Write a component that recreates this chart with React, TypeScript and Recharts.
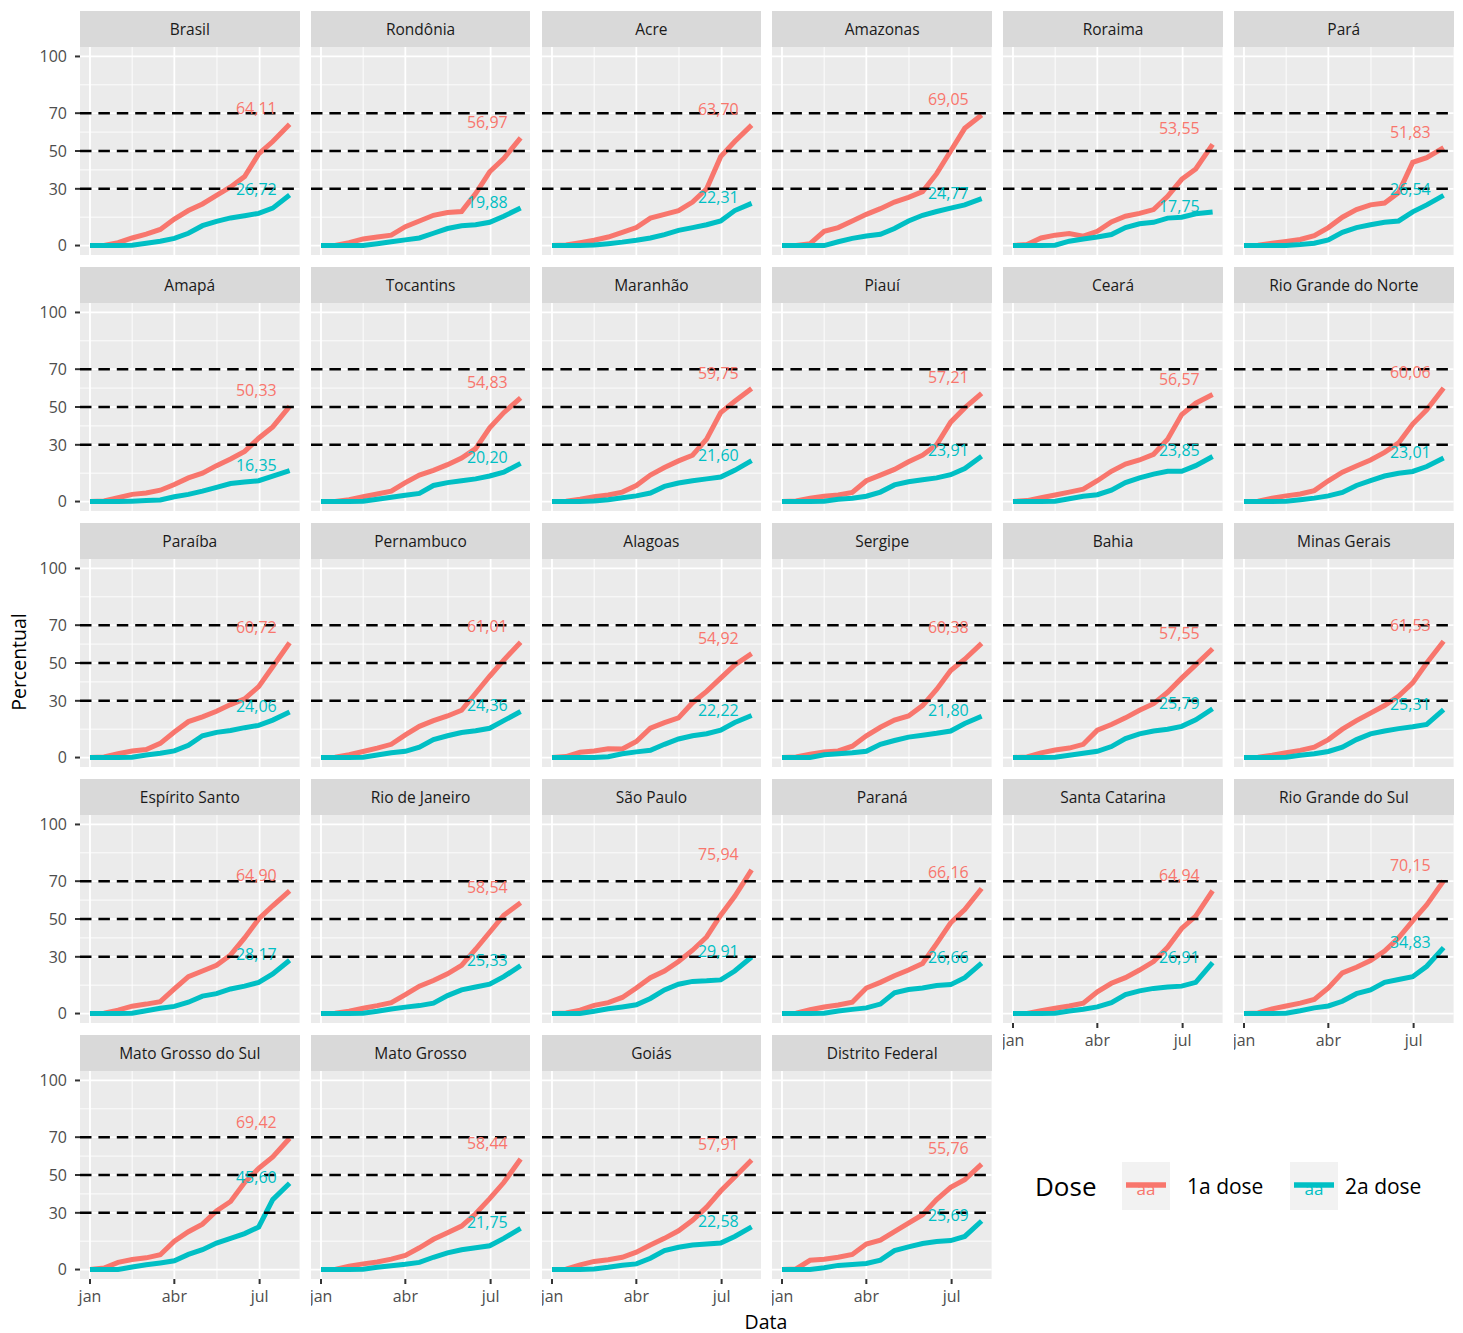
import React from 'react';
import { LineChart, Line, XAxis, YAxis, CartesianGrid, ReferenceLine, ReferenceDot } from 'recharts';

// ---------- data ----------
const days = [0, 15, 30, 45, 60, 75, 90, 105, 120, 135, 150, 165, 180, 195, 213];
const xTickDays = [0, 90, 181];
const xTickLabels = ['jan', 'abr', 'jul'];
const xMinorDays = [45, 135.5];
const yTicks = [0, 30, 50, 70, 100];
const yMinor = [15, 40, 60, 85];
const dashedLevels = [30, 50, 70];
const doseNames = ['1a dose', '2a dose'];

const states = [
  'Brasil', 'Rondônia', 'Acre', 'Amazonas', 'Roraima', 'Pará',
  'Amapá', 'Tocantins', 'Maranhão', 'Piauí', 'Ceará', 'Rio Grande do Norte',
  'Paraíba', 'Pernambuco', 'Alagoas', 'Sergipe', 'Bahia', 'Minas Gerais',
  'Espírito Santo', 'Rio de Janeiro', 'São Paulo', 'Paraná', 'Santa Catarina', 'Rio Grande do Sul',
  'Mato Grosso do Sul', 'Mato Grosso', 'Goiás', 'Distrito Federal',
];

const brasil1 = [0, 0, 1.5, 4, 6, 8.5, 14, 18.5, 22, 26.5, 31, 36.5, 48.5, 55, 64.11];
const brasil2 = [0, 0, 0, 0.2, 1.2, 2.3, 3.8, 6.5, 10.5, 12.8, 14.6, 15.8, 17, 19.8, 26.72];
const rondonia1 = [0, 0, 1.5, 3.5, 4.5, 5.5, 10, 13, 16, 17.5, 18, 27.5, 39, 46, 56.97];
const rondonia2 = [0, 0, 0, 0, 1, 2, 3, 4, 6.5, 9, 10.5, 11, 12.3, 15.5, 19.88];
const acre1 = [0, 0.3, 1.5, 2.8, 4.5, 7, 9.5, 14.5, 16.5, 18.5, 23, 30, 47, 55, 63.70];
const acre2 = [0, 0, 0, 0.3, 1, 1.8, 2.8, 4, 5.8, 8, 9.5, 11, 13, 18.5, 22.31];
const amazonas1 = [0, 0, 1, 7.5, 9.5, 13, 16.5, 19.5, 23, 25.5, 28.5, 38, 50, 62, 69.05];
const amazonas2 = [0, 0, 0, 0, 2, 3.8, 5, 6, 9, 13, 16, 18, 19.8, 21.5, 24.77];
const roraima1 = [0, 0.5, 4, 5.5, 6.3, 5, 7.5, 12.5, 15.5, 17, 19, 26, 35, 40.5, 53.55];
const roraima2 = [0, 0, 0, 0.2, 2.3, 3.5, 4.5, 5.8, 9.5, 11.5, 12.3, 14.5, 15, 16.8, 17.75];
const para1 = [0, 0.2, 1.2, 2.2, 3.2, 5.2, 9.5, 15, 19, 21.5, 22.5, 28, 44, 46.5, 51.83];
const para2 = [0, 0, 0, 0, 0.5, 1.2, 3, 7, 9.5, 11, 12.3, 13, 17.8, 21.5, 26.54];
const amapa1 = [0, 0.3, 2, 3.8, 4.5, 6, 9, 12.5, 15, 19, 22.5, 26.5, 33.5, 39.5, 50.33];
const amapa2 = [0, 0, 0, 0.2, 0.5, 0.8, 2.5, 3.8, 5.5, 7.5, 9.5, 10.3, 11, 13.5, 16.35];
const tocantins1 = [0, 0, 1, 2.5, 4, 5.5, 10, 14, 16.5, 19.5, 23, 28, 39, 47, 54.83];
const tocantins2 = [0, 0, 0, 0.2, 1.2, 2.3, 3.3, 4.3, 8.5, 10, 11, 12, 13.5, 15.5, 20.20];
const maranhao1 = [0, 0.2, 1.2, 2.5, 3.5, 5, 8.5, 14, 18, 21.5, 24.5, 33, 47, 53, 59.75];
const maranhao2 = [0, 0, 0, 0.3, 1, 2, 3, 4.5, 8, 9.8, 11, 12, 13, 16.5, 21.60];
const piaui1 = [0, 0.3, 1.8, 2.8, 3.5, 4.8, 11, 14, 17, 21, 24.5, 30, 42, 49.5, 57.21];
const piaui2 = [0, 0, 0, 0.2, 1.2, 1.8, 2.8, 5, 8.8, 10.5, 11.5, 12.5, 14.2, 17.5, 23.91];
const ceara1 = [0, 0.5, 2, 3.5, 5, 6.5, 11, 16, 19.8, 22, 25, 33, 46, 52, 56.57];
const ceara2 = [0, 0, 0, 0.2, 1.5, 2.8, 3.6, 6, 10, 12.5, 14.5, 16, 16, 19, 23.85];
const rn1 = [0, 0.2, 1.8, 3, 4, 5.8, 11, 15.5, 18.8, 22, 26, 31, 41, 48.5, 60.06];
const rn2 = [0, 0, 0, 0.2, 1, 1.8, 3, 4.8, 8.5, 11, 13.5, 15, 15.9, 18.5, 23.01];
const paraiba1 = [0, 0.3, 2, 3.5, 4.2, 7.5, 13.5, 19, 21.5, 24.5, 28, 31, 37.5, 48, 60.72];
const paraiba2 = [0, 0, 0, 0.2, 1.3, 2.3, 3.5, 6.5, 11.5, 13.3, 14.3, 15.8, 17, 19.8, 24.06];
const pernambuco1 = [0, 0.2, 1.5, 3.2, 5, 7, 12, 16.5, 19.5, 22, 25, 34, 43, 51.5, 61.01];
const pernambuco2 = [0, 0, 0, 0.2, 1.3, 2.5, 3.3, 5.5, 9.5, 11.5, 13.2, 14.2, 15.5, 19.5, 24.36];
const alagoas1 = [0, 0.5, 2.8, 3.5, 4.6, 4.5, 8.5, 15.5, 18.5, 21, 29, 35, 42, 49, 54.92];
const alagoas2 = [0, 0, 0, 0, 0.4, 2, 3, 3.8, 7, 9.8, 11.5, 12.6, 14.5, 18.5, 22.22];
const sergipe1 = [0, 0.3, 1.8, 3, 3.5, 6, 11.5, 16, 19.8, 22, 27.5, 36, 46, 52, 60.38];
const sergipe2 = [0, 0, 0, 1.5, 2, 2.5, 3.3, 7, 9, 10.8, 11.8, 12.8, 14, 18, 21.80];
const bahia1 = [0, 0.3, 2.5, 4, 5, 7, 14.5, 17.5, 21, 25, 28.5, 34.5, 42, 49, 57.55];
const bahia2 = [0, 0, 0, 0.2, 1.2, 2.3, 3.3, 5.8, 10, 12.5, 14, 15, 16.5, 20, 25.79];
const mg1 = [0, 0.2, 1.2, 2.5, 3.8, 5.5, 9.5, 15, 19.5, 23.5, 27.5, 32.5, 39.5, 50, 61.53];
const mg2 = [0, 0, 0, 0.2, 1.2, 2, 3.2, 5.5, 9.5, 12.5, 14, 15.3, 16.3, 17.5, 25.31];
const es1 = [0, 0.2, 1.8, 3.9, 5, 6.3, 13, 19.5, 22.5, 25.5, 31, 40, 50, 57, 64.90];
const es2 = [0, 0, 0, 0.2, 1.5, 2.8, 3.8, 6, 9.2, 10.5, 13, 14.5, 16.5, 21, 28.17];
const rj1 = [0, 0.2, 1.2, 2.8, 4.2, 5.8, 10, 14.5, 17.5, 21, 25.5, 34, 43, 52, 58.54];
const rj2 = [0, 0, 0, 0.2, 1.2, 2.4, 3.4, 4.2, 5.5, 9.5, 12.5, 14, 15.5, 19.5, 25.33];
const sp1 = [0, 0.3, 1.8, 4.3, 5.8, 8.5, 13.5, 19, 22.5, 27.5, 33.5, 40.5, 52, 62, 75.94];
const sp2 = [0, 0, 0, 1.2, 2.5, 3.5, 4.6, 8, 12.5, 15.5, 17, 17.3, 17.8, 22.5, 29.91];
const parana1 = [0, 0.2, 2, 3.5, 4.5, 6, 13.5, 16.5, 20, 23, 26.5, 37, 48, 55, 66.16];
const parana2 = [0, 0, 0, 0.2, 1.3, 2.2, 3, 5, 11, 12.7, 13.5, 14.8, 15.3, 19, 26.66];
const sc1 = [0, 0, 1.5, 2.8, 4, 5.5, 11.5, 16, 19, 23, 27.5, 35, 45, 51.5, 64.94];
const sc2 = [0, 0, 0, 0.2, 1.3, 2.3, 3.5, 5.8, 10, 12, 13.3, 14, 14.5, 16.5, 26.91];
const rs1 = [0, 0.3, 2.5, 4, 5.5, 7.5, 13.5, 21.5, 24.5, 28, 33, 40, 49, 57.5, 70.15];
const rs2 = [0, 0, 0, 0.2, 1.5, 3, 4, 6.5, 10.5, 12.5, 16.5, 18, 19.5, 25, 34.83];
const ms1 = [0, 0.8, 3.8, 5.3, 6.2, 7.8, 15, 20, 24, 31, 36, 46, 53.5, 59.5, 69.42];
const ms2 = [0, 0, 0, 1.3, 2.5, 3.5, 4.6, 8, 10.5, 14, 16.5, 19, 22.5, 37, 45.60];
const mt1 = [0, 0, 1.8, 3, 4, 5.5, 7.5, 11.5, 16, 19.5, 23, 29.5, 37.5, 46, 58.44];
const mt2 = [0, 0, 0, 0.2, 1.2, 2, 2.8, 3.8, 6.5, 8.8, 10.5, 11.5, 12.6, 16.5, 21.75];
const goias1 = [0, 0.2, 2.5, 4.3, 5.2, 6.5, 9.2, 13, 16.5, 20.5, 26, 33, 41.5, 49, 57.91];
const goias2 = [0, 0, 0, 0.3, 1.2, 2.3, 3, 6, 10, 11.8, 13, 13.5, 14, 17.5, 22.58];
const df1 = [0, 0.3, 4.9, 5.5, 6.5, 8, 13.5, 15.5, 20, 24.5, 29, 37, 43.5, 47.5, 55.76];
const df2 = [0, 0, 0, 1, 2.2, 2.7, 3.2, 5, 10, 12, 13.8, 14.8, 15.3, 17.5, 25.69];

const dose1 = [
  brasil1, rondonia1, acre1, amazonas1, roraima1, para1,
  amapa1, tocantins1, maranhao1, piaui1, ceara1, rn1,
  paraiba1, pernambuco1, alagoas1, sergipe1, bahia1, mg1,
  es1, rj1, sp1, parana1, sc1, rs1,
  ms1, mt1, goias1, df1,
];
const dose2 = [
  brasil2, rondonia2, acre2, amazonas2, roraima2, para2,
  amapa2, tocantins2, maranhao2, piaui2, ceara2, rn2,
  paraiba2, pernambuco2, alagoas2, sergipe2, bahia2, mg2,
  es2, rj2, sp2, parana2, sc2, rs2,
  ms2, mt2, goias2, df2,
];

// ---------- style / layout ----------
const FONT = '"Open Sans", sans-serif';
const RED = '#F8766D';
const TEAL = '#00BFC4';
const PANEL_W = 219.6;
const PANEL_H = 208;
const STRIP_H = 36;
const COL_STEP = 230.8;
const ROW_STEP = 256;
const LEFT0 = 80;
const TOP0 = 10.5;
const YAXIS_W = 80;
const XAXIS_H = 40;
const Y_PAD = 12;
const X_DOMAIN = [-10.65, 223.65];
const Y_DOMAIN = [-5, 105];
const LABEL_DAY = 177.5;

const fmt = (v: number) => v.toFixed(2).replace('.', ',');

const YTick = (props: any) => {
  const { x, y, payload } = props;
  return (
    <text x={x} y={y} dy="0.36em" textAnchor="end" fill="#4D4D4D" fontSize={16} fontFamily={FONT}>
      {payload.value}
    </text>
  );
};

const XTick = (props: any) => {
  const { x, y, payload } = props;
  const label = xTickLabels[xTickDays.indexOf(payload.value)] ?? '';
  return (
    <text x={x} y={y} dy="0.72em" textAnchor="middle" fill="#4D4D4D" fontSize={16} fontFamily={FONT}>
      {label}
    </text>
  );
};

function Panel({ idx }: { idx: number }) {
  const col = idx % 6;
  const row = Math.floor(idx / 6);
  const showY = col === 0;
  const showX = row === 4 || (row === 3 && col >= 4);
  const left = LEFT0 + col * COL_STEP;
  const top = TOP0 + row * ROW_STEP;
  const padTop = showY ? Y_PAD : 0;
  const a1 = dose1[idx];
  const a2 = dose2[idx];
  const data = days.map((d, i) => ({ day: d, d1: a1[i], d2: a2[i] }));
  const last1 = a1[a1.length - 1];
  const last2 = a2[a2.length - 1];
  return (
    <>
      <div
        style={{
          position: 'absolute', left, top, width: PANEL_W, height: STRIP_H,
          background: '#D9D9D9', color: '#1A1A1A', fontFamily: FONT, fontSize: 15.5,
          display: 'flex', alignItems: 'center', justifyContent: 'center', whiteSpace: 'nowrap',
        }}
      >
        {states[idx]}
      </div>
      <div style={{ position: 'absolute', left: left - (showY ? YAXIS_W : 0), top: top + STRIP_H - padTop }}>
        <LineChart
          width={PANEL_W + (showY ? YAXIS_W : 0)}
          height={PANEL_H + (showX ? XAXIS_H : 0) + padTop}
          data={data}
          margin={{ top: padTop, right: 0, bottom: 0, left: 0 }}
        >
          <XAxis
            dataKey="day"
            type="number"
            domain={X_DOMAIN}
            allowDataOverflow
            ticks={xTickDays}
            interval={0}
            hide={!showX}
            height={XAXIS_H}
            axisLine={false}
            tickSize={5}
            tickMargin={6}
            tickLine={{ stroke: '#333333', strokeWidth: 2 }}
            tick={XTick}
          />
          <YAxis
            type="number"
            domain={Y_DOMAIN}
            allowDataOverflow
            ticks={yTicks}
            interval={0}
            hide={!showY}
            width={YAXIS_W}
            axisLine={false}
            tickSize={5}
            tickMargin={8}
            tickLine={{ stroke: '#333333', strokeWidth: 2 }}
            tick={YTick}
          />
          <CartesianGrid
            fill="#EBEBEB"
            stroke="#FFFFFF"
            strokeWidth={0.9}
            horizontalValues={yMinor}
            verticalValues={xMinorDays}
          />
          <CartesianGrid
            stroke="#FFFFFF"
            strokeWidth={1.8}
            horizontalValues={yTicks}
            verticalValues={xTickDays}
          />
          <Line
            dataKey="d1"
            name={doseNames[0]}
            type="linear"
            stroke={RED}
            strokeWidth={5}
            dot={false}
            activeDot={false}
            isAnimationActive={false}
          />
          <Line
            dataKey="d2"
            name={doseNames[1]}
            type="linear"
            stroke={TEAL}
            strokeWidth={5}
            dot={false}
            activeDot={false}
            isAnimationActive={false}
          />
          {dashedLevels.map((lv) => (
            <ReferenceLine key={lv} y={lv} stroke="#000000" strokeWidth={2.4} strokeDasharray="11.5 6.9" />
          ))}
          <ReferenceDot
            x={LABEL_DAY}
            y={last1 + 8.3}
            r={0}
            fill="none"
            stroke="none"
            label={{ value: fmt(last1), position: 'center', fill: RED, fontSize: 16, fontFamily: FONT }}
          />
          <ReferenceDot
            x={LABEL_DAY}
            y={last2 + 3}
            r={0}
            fill="none"
            stroke="none"
            label={{ value: fmt(last2), position: 'center', fill: TEAL, fontSize: 16, fontFamily: FONT }}
          />
        </LineChart>
      </div>
    </>
  );
}

function LegendKey({ left, color }: { left: number; color: string }) {
  return (
    <svg style={{ position: 'absolute', left, top: 1162 }} width={48} height={48}>
      <rect x={0} y={0} width={48} height={48} fill="#F2F2F2" />
      <text x={24} y={33} textAnchor="middle" fill={color} fontSize={17} fontFamily={FONT}>aa</text>
      <line x1={4} x2={44} y1={23} y2={23} stroke={color} strokeWidth={5.5} />
    </svg>
  );
}

export default function App() {
  return (
    <div
      style={{
        position: 'absolute', left: 0, top: 0, width: 1463, height: 1333,
        background: '#FFFFFF', fontFamily: FONT, overflow: 'hidden',
      }}
    >
      {states.map((_, i) => (
        <Panel key={i} idx={i} />
      ))}
      <div
        style={{
          position: 'absolute', left: 18, top: 662, transform: 'translate(-50%, -50%) rotate(-90deg)',
          fontSize: 19.5, color: '#000', whiteSpace: 'nowrap',
        }}
      >
        Percentual
      </div>
      <div
        style={{
          position: 'absolute', left: 766, top: 1321, transform: 'translate(-50%, -50%)',
          fontSize: 19.5, color: '#000', whiteSpace: 'nowrap',
        }}
      >
        Data
      </div>
      <div
        style={{
          position: 'absolute', left: 1035, top: 1186, transform: 'translateY(-50%)',
          fontSize: 26, color: '#000', whiteSpace: 'nowrap',
        }}
      >
        Dose
      </div>
      <LegendKey left={1122} color={RED} />
      <div
        style={{
          position: 'absolute', left: 1187, top: 1186, transform: 'translateY(-50%)',
          fontSize: 21, color: '#000', whiteSpace: 'nowrap',
        }}
      >
        {doseNames[0]}
      </div>
      <LegendKey left={1290} color={TEAL} />
      <div
        style={{
          position: 'absolute', left: 1345, top: 1186, transform: 'translateY(-50%)',
          fontSize: 21, color: '#000', whiteSpace: 'nowrap',
        }}
      >
        {doseNames[1]}
      </div>
    </div>
  );
}
